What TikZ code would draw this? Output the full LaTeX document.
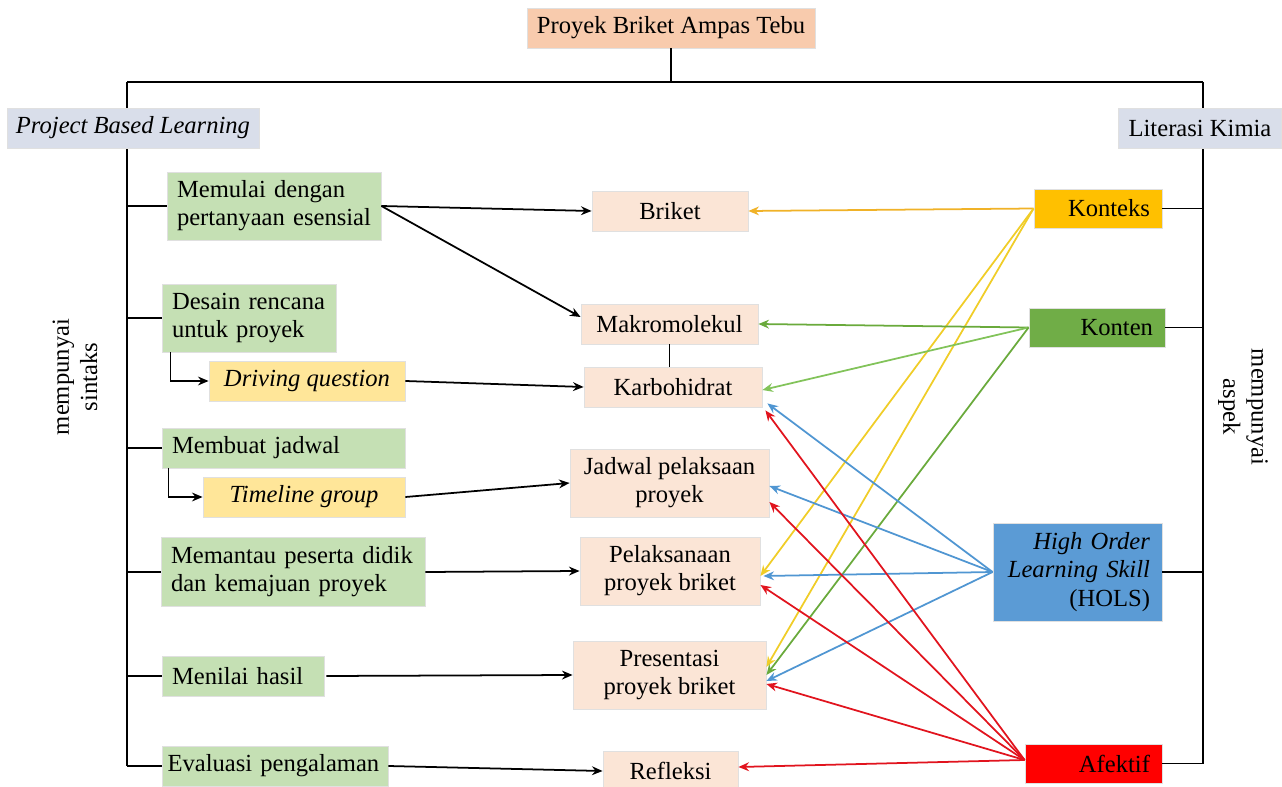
\documentclass[tikz,border=0pt]{standalone}
\usepackage{fontspec}
\setmainfont{Liberation Serif}
\usetikzlibrary{arrows.meta}
\usetikzlibrary{calc,positioning}

\definecolor{judul}{RGB}{248,203,173}
\definecolor{kepala}{RGB}{217,222,234}
\definecolor{hijau}{RGB}{197,224,180}
\definecolor{kuning}{RGB}{255,230,153}
\definecolor{krem}{RGB}{251,229,214}
\definecolor{oranye}{RGB}{255,192,0}
\definecolor{hijautua}{RGB}{112,173,71}
\definecolor{biru}{RGB}{91,155,213}
\definecolor{merah}{RGB}{255,0,0}
\definecolor{garisoranye}{RGB}{240,178,40}
\definecolor{gariskuning}{RGB}{240,205,40}
\definecolor{garishijau}{RGB}{106,170,60}
\definecolor{garishijaumuda}{RGB}{130,195,90}
\definecolor{garisbiru}{RGB}{80,150,210}
\definecolor{garismerah}{RGB}{225,20,30}

\begin{document}
\begin{tikzpicture}[x=0.02cm, y=-0.02cm, >={Stealth[length=6pt,width=5pt]},
    line width=1pt, font=\fontsize{14}{16}\selectfont,
    kotak/.style={draw=black!12, line width=0.5pt, inner sep=0pt, minimum height=0.8cm},
    sintaksbox/.style={kotak, fill=hijau, align=left, inner xsep=0.2cm},
    subbox/.style={kotak, fill=kuning, font=\fontsize{14}{16}\selectfont\itshape},
    isibox/.style={kotak, fill=krem, align=center},
    aspekbox/.style={kotak, align=right, inner xsep=0.24cm, minimum height=0.78cm},
    kepalabox/.style={kotak, fill=kepala},
    keterangan/.style={align=center}]
    \useasboundingbox (0,0) rectangle (1282,787);

    \coordinate (kiriatas) at (127,82);
    \coordinate (kananatas) at (1203,82);
    \coordinate (kiribawah) at (127,766);
    \coordinate (kananbawah) at (1203,763.5);
    \draw (kiriatas) -- (kananatas);
    \draw (kiriatas) -- (kiribawah);
    \draw (kananatas) -- (kananbawah);

    \node[kotak, fill=judul, minimum width=5.76cm] (proyek) at (671,28) {Proyek Briket Ampas Tebu};
    \node[kepalabox, minimum width=5.04cm, font=\fontsize{14}{16}\selectfont\itshape] (pbl) at (133,128) {Project Based Learning};
    \node[kepalabox, minimum width=3.26cm] (literasi) at (1200,128) {Literasi Kimia};
    \draw (proyek.south) -- (proyek.south |- kiriatas);

    \node[sintaksbox, text width=3.88cm, minimum height=1.36cm] (mulai) at (274,206) {Memulai dengan\\pertanyaan esensial};
    \node[sintaksbox, text width=3.08cm, minimum height=1.36cm] (desain) at (249,318) {Desain rencana\\untuk proyek};
    \node[subbox, minimum width=3.92cm] (driving) at (307,381) {Driving question};
    \node[sintaksbox, text width=4.46cm] (jadwal) at (283.5,448) {Membuat jadwal};
    \node[subbox, minimum width=4.04cm] (timeline) at (304,497) {Timeline group};
    \node[sintaksbox, text width=4.88cm, minimum height=1.38cm] (pantau) at (293,572) {Memantau peserta didik\\dan kemajuan proyek};
    \node[sintaksbox, text width=2.84cm] (nilai) at (243,676) {Menilai hasil};
    \node[sintaksbox, inner xsep=0.11cm, text width=4.3cm] (evaluasi) at (275,766) {\mbox{Evaluasi pengalaman}};

    \node[isibox, minimum width=3.12cm] (briket) at (670,211) {Briket};
    \node[isibox, minimum width=3.54cm] (makro) at (669.5,324) {Makromolekul};
    \node[isibox, minimum width=3.56cm] (karbo) at (673,387) {Karbohidrat};
    \node[isibox, minimum width=3.98cm, minimum height=1.36cm] (jadwalpel) at (669.5,483) {Jadwal pelaksaan\\proyek};
    \node[isibox, minimum width=3.6cm, minimum height=1.36cm] (pelaksanaan) at (670,571) {Pelaksanaan\\proyek briket};
    \node[isibox, minimum width=3.86cm, minimum height=1.36cm] (presentasi) at (669.5,675) {Presentasi\\proyek briket};
    \node[isibox, minimum width=2.7cm] (refleksi) at (670.5,771) {Refleksi};

    \node[aspekbox, fill=oranye, text width=2.08cm] (konteks) at (1098,208.5) {Konteks};
    \node[aspekbox, fill=hijautua, text width=2.24cm] (konten) at (1097,327.5) {Konten};
    \node[aspekbox, fill=biru, text width=2.9cm, minimum height=1.96cm] (hols) at (1077.5,572) {\textit{High Order}\\\textit{Learning Skill}\\(HOLS)};
    \node[aspekbox, fill=merah, text width=2.26cm] (afektif) at (1093.5,763.5) {Afektif};

    \node[keterangan, rotate=90] (sintaks) at (75,377) {mempunyai\\sintaks};
    \node[keterangan, rotate=-90] (aspek) at (1243,407) {mempunyai\\aspek};

    \foreach \n in {mulai,desain,jadwal,pantau,nilai}
        \draw (\n.west -| kiriatas) -- (\n.west);
    \draw (kiribawah) -- (evaluasi.west);
    \foreach \n in {konteks,konten,hols}
        \draw (\n.east) -- (\n.east -| kananatas);
    \draw (afektif.east) -- (kananbawah);

    \draw[->] ([xshift=0.18cm]desain.south west) |- (driving.west);
    \draw[->] ([xshift=0.14cm]jadwal.south west) |- (timeline.west);

    \draw[->] (mulai.east) -- (briket.west);
    \draw[->] (mulai.east) -- ([yshift=0.14cm]makro.west);
    \draw (makro.south) -- (makro.south |- karbo.north);
    \draw[->] (driving.east) -- (karbo.west);
    \draw[->] (timeline.east) -- (jadwalpel.west);
    \draw[->] (pantau.east) -- (pelaksanaan.west);
    \draw[->] ([xshift=0.04cm]nilai.east) -- (presentasi.west);
    \draw[->] (evaluasi.east) -- (refleksi.west);

    \draw[->, garisoranye] (konteks.west) -- (briket.east);
    \draw[->, gariskuning] (konteks.west) -- ([yshift=-0.1cm]pelaksanaan.east);
    \draw[->, gariskuning] (konteks.west) -- ([yshift=0.16cm]presentasi.east);

    \draw[->, garishijau] (konten.west) -- (makro.east);
    \draw[->, garishijaumuda] (konten.west) -- ([yshift=-0.06cm]karbo.east);
    \draw[->, garishijau] (konten.west) -- (presentasi.east);

    \draw[->, garisbiru] (hols.west) -- ([xshift=0.1cm,yshift=0.08cm]karbo.south east);
    \draw[->, garisbiru] (hols.west) -- ([yshift=-0.06cm]jadwalpel.east);
    \draw[->, garisbiru] (hols.west) -- ([xshift=0.06cm,yshift=-0.1cm]pelaksanaan.east);
    \draw[->, garisbiru] (hols.west) -- ([yshift=-0.12cm]presentasi.east);

    \draw[->, garismerah] ([yshift=0.07cm]afektif.west) -- ([xshift=0.06cm,yshift=-0.06cm]karbo.south east);
    \draw[->, garismerah] ([yshift=0.07cm]afektif.west) -- ([yshift=-0.38cm]jadwalpel.east);
    \draw[->, garismerah] ([yshift=0.07cm]afektif.west) -- ([yshift=-0.28cm]pelaksanaan.east);
    \draw[->, garismerah] ([yshift=0.07cm]afektif.west) -- ([yshift=-0.18cm]presentasi.east);
    \draw[->, garismerah] ([yshift=0.07cm]afektif.west) -- ([yshift=0.08cm]refleksi.east);
\end{tikzpicture}
\end{document}
